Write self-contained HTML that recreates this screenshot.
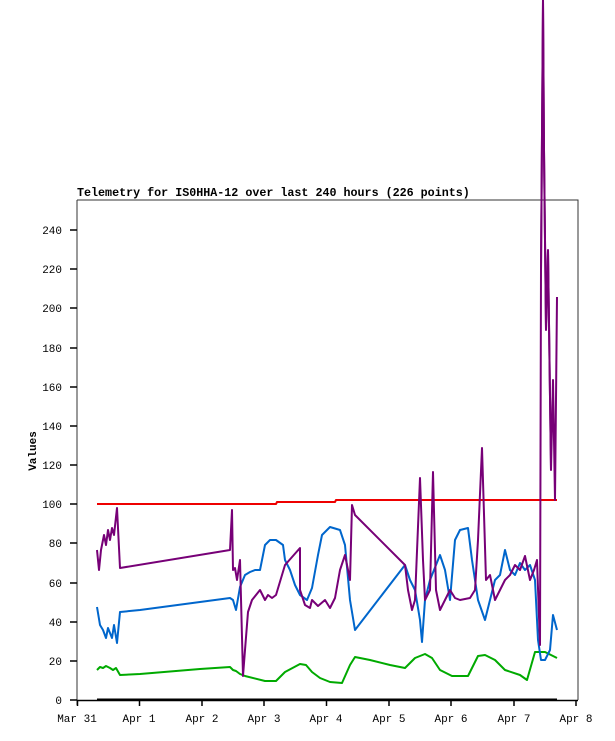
<!DOCTYPE html>
<html><head><meta charset="utf-8"><style>body{margin:0;background:#fff}svg{display:block}text{font-family:"Liberation Mono",monospace;font-size:11px;fill:#000}</style></head><body>
<svg width="615" height="741" viewBox="0 0 615 741">
<rect x="0" y="0" width="615" height="741" fill="#fff"/>
<text x="77" y="196" font-weight="bold" style="font-size:11.7px">Telemetry for IS0HHA-12 over last 240 hours (226 points)</text>
<path d="M77,200H578V700M77,200V705" fill="none" stroke="#333" stroke-width="1"/>
<g stroke="#000" stroke-width="1.5">
<line x1="77" y1="700.5" x2="578" y2="700.5"/>
<line x1="70" y1="700" x2="77" y2="700"/><line x1="70" y1="661" x2="77" y2="661"/><line x1="70" y1="622" x2="77" y2="622"/><line x1="70" y1="583" x2="77" y2="583"/><line x1="70" y1="543" x2="77" y2="543"/><line x1="70" y1="504" x2="77" y2="504"/><line x1="70" y1="465" x2="77" y2="465"/><line x1="70" y1="426" x2="77" y2="426"/><line x1="70" y1="387" x2="77" y2="387"/><line x1="70" y1="348" x2="77" y2="348"/><line x1="70" y1="308" x2="77" y2="308"/><line x1="70" y1="269" x2="77" y2="269"/><line x1="70" y1="230" x2="77" y2="230"/>
<line x1="77.5" y1="700" x2="77.5" y2="706"/><line x1="139.5" y1="700" x2="139.5" y2="706"/><line x1="202" y1="700" x2="202" y2="706"/><line x1="264" y1="700" x2="264" y2="706"/><line x1="326.5" y1="700" x2="326.5" y2="706"/><line x1="389" y1="700" x2="389" y2="706"/><line x1="451" y1="700" x2="451" y2="706"/><line x1="514" y1="700" x2="514" y2="706"/><line x1="576" y1="700" x2="576" y2="706"/>
</g>
<g text-anchor="end">
<text x="62" y="704">0</text><text x="62" y="665">20</text><text x="62" y="626">40</text><text x="62" y="587">60</text><text x="62" y="547">80</text><text x="62" y="508">100</text><text x="62" y="469">120</text><text x="62" y="430">140</text><text x="62" y="391">160</text><text x="62" y="352">180</text><text x="62" y="312">200</text><text x="62" y="273">220</text><text x="62" y="234">240</text>
</g>
<g text-anchor="middle">
<text x="77" y="722">Mar 31</text><text x="139" y="722">Apr 1</text><text x="202" y="722">Apr 2</text><text x="264" y="722">Apr 3</text><text x="326" y="722">Apr 4</text><text x="389" y="722">Apr 5</text><text x="451" y="722">Apr 6</text><text x="514" y="722">Apr 7</text><text x="576" y="722">Apr 8</text>
</g>
<text transform="translate(36,451) rotate(-90)" text-anchor="middle" font-weight="bold">Values</text>
<svg x="77" y="0" width="502" height="700" viewBox="77 0 502 700" overflow="hidden">
<g fill="none" stroke-width="2" stroke-linejoin="round">
<line x1="97" y1="699.5" x2="557" y2="699.5" stroke="#000"/>
<polyline stroke="#e00" points="97,504 276,504 277,502 335,502 336,500 557,500"/>
<polyline stroke="#00aa00" points="97,670 100,667 103,668 106,666 110,668 113,670 116,668 120,675 140,674 200,669 230,667 233,670 236,671 240,674 245,676 265,681 276,681 285,672 300,664 306,665 312,672 320,678 330,682 342,683 350,665 355,657 370,660 390,665 405,668 415,658 425,654 432,658 440,670 452,676 468,676 478,656 485,655 495,660 505,670 520,675 527,680 535,652 545,652 557,658"/>
<polyline stroke="#0066cc" points="97,607 100,625 103,630 106,638 108,628 112,638 114,625 117,643 120,612 140,610 230,598 233,600 236,610 240,587 245,575 250,572 255,570 260,570 265,545 270,540 276,540 283,545 285,560 290,570 295,585 300,595 307,600 312,588 318,555 322,535 330,527 340,530 345,545 350,600 355,630 405,565 410,580 415,590 420,620 422,642 425,600 430,580 440,555 445,570 450,600 455,540 460,530 468,528 472,560 478,600 485,620 490,600 495,580 500,575 505,550 510,570 515,575 520,563 525,570 530,565 535,580 538,640 541,660 545,660 550,650 553,615 557,630"/>
<polyline stroke="#770077" points="97,550 99,570 101,550 104,535 106,545 108,530 110,540 112,528 114,535 117,508 120,568 230,550 232,510 233,570 235,568 237,580 240,560 243,676 245,650 248,612 252,600 256,595 260,590 265,600 268,595 272,598 276,595 285,565 300,548 300,590 305,605 310,608 312,600 318,606 325,600 330,608 335,598 340,570 345,555 350,580 352,505 355,515 405,565 408,590 412,610 415,600 420,478 423,560 425,600 430,590 433,472 436,590 440,610 445,600 450,590 455,598 460,600 470,598 475,590 478,540 482,448 486,580 490,575 495,600 500,590 505,580 510,575 515,565 520,570 525,556 530,580 534,570 537,560 540,645 541,270 543,0 544,150 546,330 548,250 551,470 553,380 555,500 557,297"/>
</g>
</svg>
<polyline fill="none" stroke="#770077" stroke-width="2" points="541,270 543,0 544,150 546,330 548,250 551,470"/>
</svg>
</body></html>
